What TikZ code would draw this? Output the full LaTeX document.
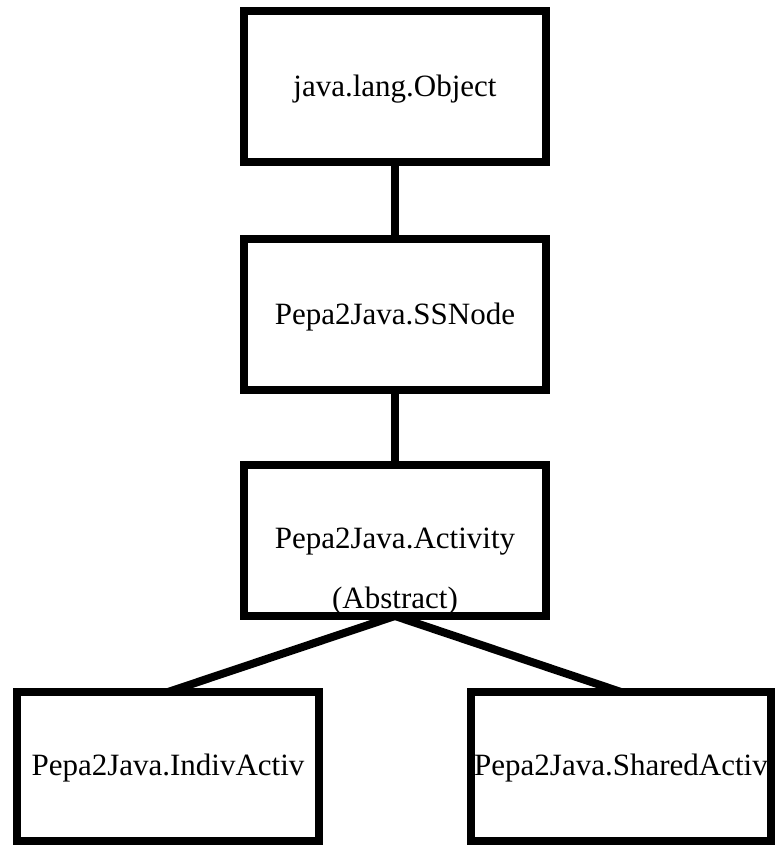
\documentclass[tikz,border=0pt]{standalone}
\usepackage{fontspec}
\setmainfont{Liberation Serif}
\begin{document}
\begin{tikzpicture}[x=1pt,y=-1pt,
  classbox/.style={draw=black, line width=8pt, fill=none, inner sep=0pt,
    outer sep=0pt, minimum width=302pt, minimum height=151pt},
  lbl/.style={inner sep=0pt, anchor=base, font=\fontsize{31}{37}\selectfont},
  link/.style={draw=black, line width=8pt}]
\useasboundingbox (0,0) rectangle (780,846);
\fill[white] (0,0) rectangle (780,846);

% class names (set first so the frames sit on top of them)
\node[lbl] (t1) at (395,96) {java.lang.Object};
\node[lbl] (t2) at (395,324) {Pepa2Java.SSNode};
\node[lbl] (t3) at (395,548) {Pepa2Java.Activity};
\node[lbl] (t3b) at (395,608) {(Abstract)};
\node[lbl] (t4) at (168,775) {Pepa2Java.IndivActiv};
\node[lbl] (t5) at (621,775) {Pepa2Java.SharedActiv};

% class frames
\node[classbox] (obj) at (395,86.5) {};
\node[classbox] (ssn) at (395,314.5) {};
\node[classbox] (act) at (395,540.5) {};
\node[classbox, minimum height=149pt] (ind) at (168,766.5) {};
\node[classbox, minimum width=300pt, minimum height=149pt] (sha) at (621,766.5) {};

% inheritance links
\draw[link] (obj.south) -- (ssn.north);
\draw[link] (ssn.south) -- (act.north);
\draw[link] (act.south) -- (ind.north);
\draw[link] (act.south) -- (sha.north);
\end{tikzpicture}
\end{document}
